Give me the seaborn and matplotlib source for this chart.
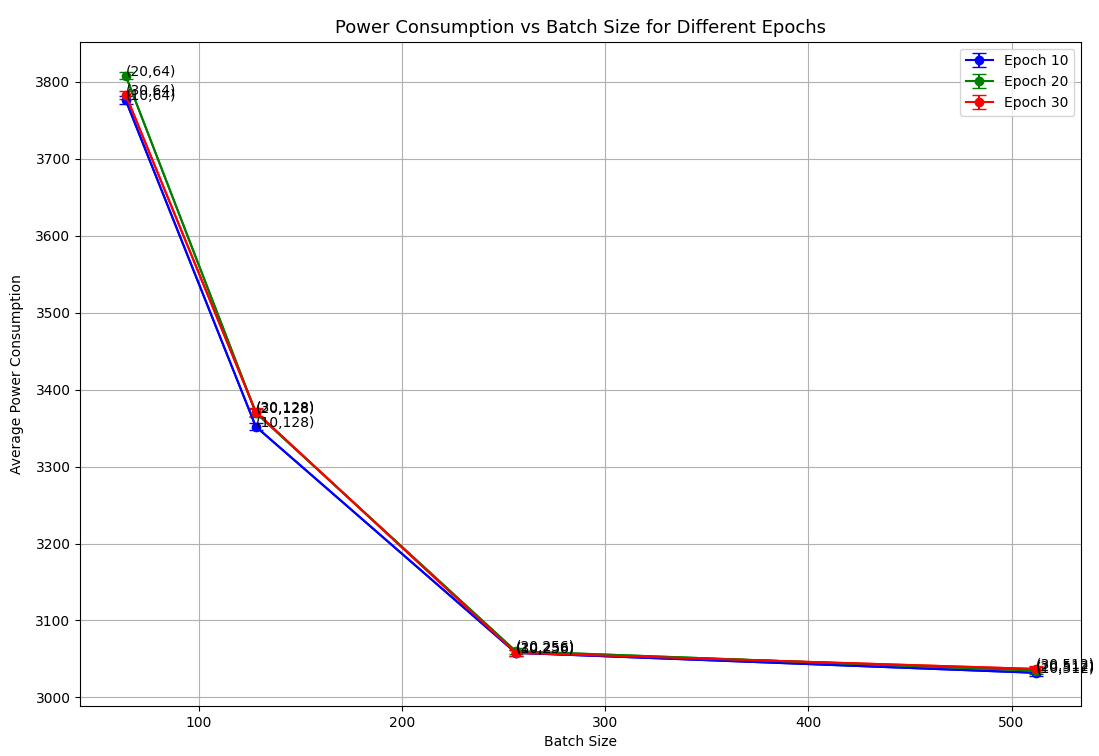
import matplotlib
matplotlib.use("Agg")
import matplotlib.pyplot as plt
import seaborn as sns
import pandas as pd

batch_sizes = [64, 128, 256, 512]
epochs = [10, 20, 30]
power_e10 = [3776, 3352, 3058, 3032]
power_e20 = [3808, 3370, 3060, 3035]
power_e30 = [3783, 3371, 3058, 3037]
err_e10 = [5, 5, 4, 4]
err_e20 = [5, 5, 4, 4]
err_e30 = [5, 5, 4, 4]
colors = ["blue", "green", "red"]

series = {10: (power_e10, err_e10), 20: (power_e20, err_e20), 30: (power_e30, err_e30)}

fig = plt.figure(figsize=(10.99, 7.56), dpi=100)
ax = fig.add_axes([0.073, 0.066, 0.911, 0.879])

for ep, col in zip(epochs, colors):
    vals, errs = series[ep]
    df = pd.DataFrame({"batch": batch_sizes, "power": vals})
    sns.lineplot(data=df, x="batch", y="power", color=col, ax=ax, legend=False)
    ax.errorbar(batch_sizes, vals, yerr=errs, fmt="-o", color=col, capsize=5, label=f"Epoch {ep}")
    for b, v in zip(batch_sizes, vals):
        ax.annotate(f"({ep},{b})", (b, v))

ax.set_title("Power Consumption vs Batch Size for Different Epochs", fontsize=13)
ax.set_xlabel("Batch Size")
ax.set_ylabel("Average Power Consumption", labelpad=8)
ax.grid(True)
ax.legend(loc="upper right")
fig.savefig("out.png", dpi=100)
